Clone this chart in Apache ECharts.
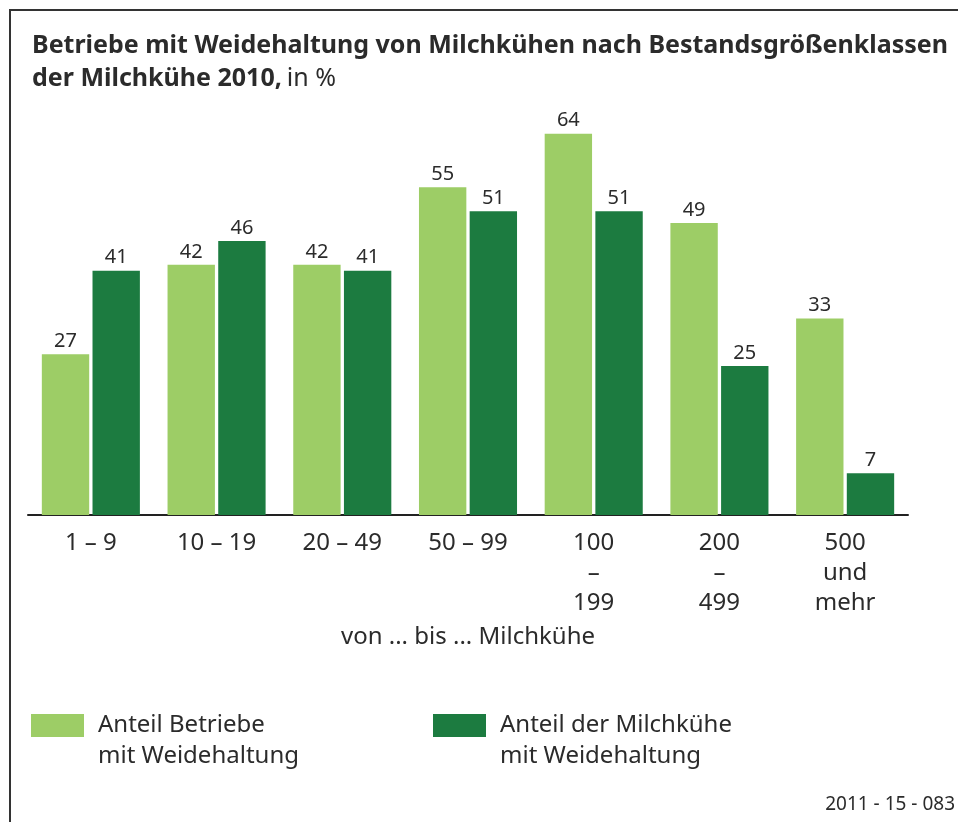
<!DOCTYPE html>
<html>
<head>
<meta charset="utf-8">
<script src="https://cdn.jsdelivr.net/npm/echarts@6/dist/echarts.min.js"></script>
<style>
  html, body { margin: 0; padding: 0; background: #fff; }
  #chart { width: 958px; height: 822px; }
</style>
</head>
<body>
<div id="chart"></div>
<script>
// Bestandsgrößenklassen
var categories = ['1 – 9', '10 – 19', '20 – 49', '50 – 99', '100\n–\n199', '200\n–\n499', '500\nund\nmehr'];
var seriesNames = ['Anteil Betriebe\nmit Weidehaltung', 'Anteil der Milchkühe\nmit Weidehaltung'];
var betriebe = [27, 42, 42, 55, 64, 49, 33];
var milchkuehe = [41, 46, 41, 51, 51, 25, 7];

var FONT = 'Noto Sans';
var TEXT = '#2b2b2b';

var chart = echarts.init(document.getElementById('chart'));

var legendText = {
  fontFamily: FONT,
  fontSize: 24,
  color: TEXT,
  lineHeight: 31,
  padding: [0, 0, 0, 9]
};

// leere erste Zeile: so steht "Anteil ..." auf Höhe des Farbkästchens
function legendLabel(name) {
  return ' \n' + name;
}

var option = {
  backgroundColor: '#fff',
  animation: false,
  title: {
    left: 32,
    top: 29,
    padding: 0,
    text: '{b|Betriebe mit Weidehaltung von Milchkühen nach Bestandsgrößenklassen}\n{b|der Milchkühe 2010,} {n|in %}',
    textStyle: {
      rich: {
        b: { fontFamily: FONT, fontSize: 25, fontWeight: 'bold', color: TEXT, lineHeight: 33 },
        n: { fontFamily: FONT, fontSize: 25, fontWeight: 'normal', color: TEXT, lineHeight: 33 }
      }
    }
  },
  legend: [
    {
      left: 31,
      top: 679,
      padding: 0,
      itemWidth: 53,
      itemHeight: 23,
      icon: 'rect',
      selectedMode: false,
      data: [seriesNames[0]],
      formatter: legendLabel,
      textStyle: legendText
    },
    {
      left: 433,
      top: 679,
      padding: 0,
      itemWidth: 53,
      itemHeight: 23,
      icon: 'rect',
      selectedMode: false,
      data: [seriesNames[1]],
      formatter: legendLabel,
      textStyle: legendText
    }
  ],
  grid: {
    left: 28,
    right: 50,
    top: 98,
    bottom: 307
  },
  xAxis: {
    type: 'category',
    data: categories,
    name: 'von ... bis ... Milchkühe',
    nameLocation: 'middle',
    nameGap: 110,
    nameTextStyle: { fontFamily: FONT, fontSize: 24, color: TEXT },
    axisLine: { lineStyle: { color: '#222', width: 2 } },
    axisTick: { show: false },
    axisLabel: {
      fontFamily: FONT,
      fontSize: 24,
      color: TEXT,
      lineHeight: 30,
      margin: 13,
      interval: 0
    }
  },
  yAxis: {
    type: 'value',
    min: 0,
    max: 70,
    show: false,
    splitLine: { show: false }
  },
  series: [
    {
      name: seriesNames[0],
      type: 'bar',
      data: betriebe,
      barGap: '7%',
      barCategoryGap: '22%',
      itemStyle: { color: '#9dcd66' },
      label: { show: true, position: 'top', distance: 3, fontFamily: FONT, fontSize: 20, color: TEXT }
    },
    {
      name: seriesNames[1],
      type: 'bar',
      data: milchkuehe,
      barGap: '7%',
      barCategoryGap: '22%',
      itemStyle: { color: '#1c7b40' },
      label: { show: true, position: 'top', distance: 3, fontFamily: FONT, fontSize: 20, color: TEXT }
    }
  ],
  graphic: [
    {
      type: 'polyline',
      shape: { points: [[10, 822], [10, 10], [958, 10]] },
      style: { stroke: '#333', lineWidth: 2, fill: null }
    },
    {
      type: 'text',
      right: 3,
      top: 795,
      style: { text: '2011 - 15 - 083', fontFamily: FONT, fontSize: 19, fill: TEXT }
    }
  ]
};

chart.setOption(option);
</script>
</body>
</html>
